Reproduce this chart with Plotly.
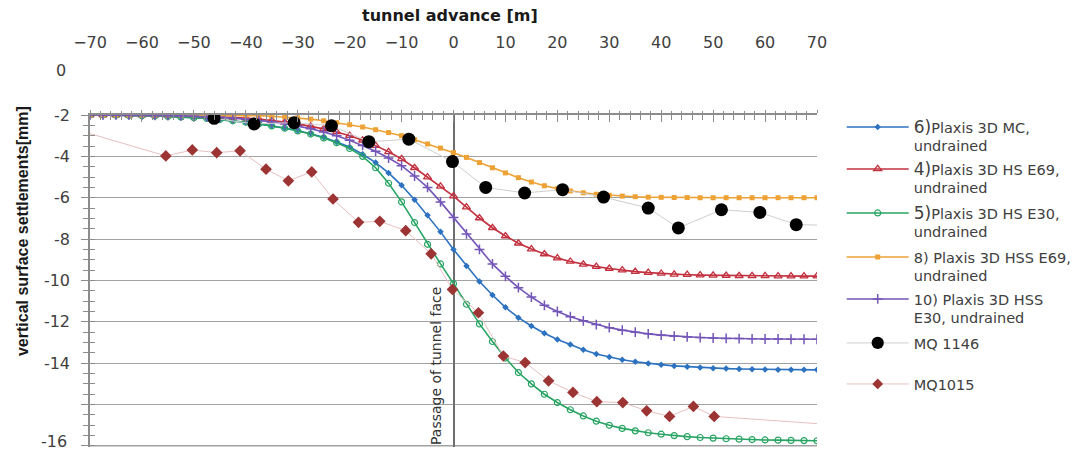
import plotly.graph_objects as go

# Tunnel advance positions of the Plaxis 3D result points [m]
x_model = [-70, -67.5, -65, -62.5, -60, -57.5, -55, -52.5, -50, -47.5, -45, -42.5,
           -40, -37.5, -35, -32.5, -30, -27.5, -25, -22.5, -20, -17.5, -15, -12.5,
           -10, -7.5, -5, -2.5, 0, 2.5, 5, 7.5, 10, 12.5, 15, 17.5, 20, 22.5, 25,
           27.5, 30, 32.5, 35, 37.5, 40, 42.5, 45, 47.5, 50, 52.5, 55, 57.5, 60,
           62.5, 65, 67.5, 70]

# Vertical surface settlements [mm]
mc_undrained = [0, 0, -0.01, -0.02, -0.03, -0.05, -0.07, -0.10, -0.13, -0.17, -0.22, -0.28,
                -0.35, -0.43, -0.52, -0.63, -0.75, -0.90, -1.08, -1.30, -1.55, -1.90, -2.30, -2.80,
                -3.40, -4.10, -4.85, -5.65, -6.50, -7.30, -8.05, -8.70, -9.30, -9.80, -10.20, -10.55,
                -10.85, -11.10, -11.35, -11.55, -11.70, -11.83, -11.93, -12.01, -12.07, -12.13,
                -12.17, -12.21, -12.24, -12.26, -12.28, -12.29, -12.30, -12.31, -12.31, -12.32, -12.32]

hs_e69_undrained = [0, 0, 0, 0, -0.01, -0.01, -0.02, -0.03, -0.04, -0.06, -0.08, -0.11,
                    -0.15, -0.20, -0.26, -0.34, -0.43, -0.54, -0.67, -0.82, -1.00, -1.22, -1.48, -1.78,
                    -2.12, -2.55, -3.00, -3.45, -3.92, -4.45, -4.98, -5.45, -5.85, -6.20, -6.48, -6.72,
                    -6.92, -7.08, -7.22, -7.33, -7.42, -7.50, -7.57, -7.62, -7.66, -7.70, -7.72, -7.74,
                    -7.75, -7.76, -7.77, -7.78, -7.78, -7.79, -7.79, -7.79, -7.79]

hs_e30_undrained = [0, 0, -0.01, -0.02, -0.03, -0.05, -0.07, -0.10, -0.13, -0.17, -0.22, -0.28,
                    -0.35, -0.43, -0.53, -0.64, -0.77, -0.92, -1.11, -1.34, -1.62, -2.00, -2.55, -3.30,
                    -4.20, -5.20, -6.25, -7.20, -8.15, -9.15, -10.10, -10.95, -11.75, -12.45, -13.00,
                    -13.50, -13.90, -14.25, -14.55, -14.80, -15.00, -15.15, -15.27, -15.36, -15.43,
                    -15.50, -15.55, -15.59, -15.62, -15.65, -15.67, -15.69, -15.71, -15.72, -15.73,
                    -15.74, -15.75]

hss_e69_undrained = [0, 0, 0, 0, 0, 0, 0, 0, 0, 0, 0, 0,
                     -0.01, -0.03, -0.06, -0.10, -0.14, -0.20, -0.28, -0.37, -0.47, -0.58, -0.71, -0.85,
                     -1.00, -1.20, -1.40, -1.60, -1.82, -2.05, -2.30, -2.55, -2.80, -3.03, -3.24, -3.42,
                     -3.56, -3.67, -3.76, -3.83, -3.88, -3.92, -3.95, -3.97, -3.98, -3.99, -3.99, -4.00,
                     -4.00, -4.00, -4.00, -4.00, -4.00, -4.00, -4.00, -4.00, -4.00]

hss_e30_undrained = [0, 0, 0, -0.01, -0.01, -0.02, -0.03, -0.04, -0.06, -0.08, -0.11, -0.15,
                     -0.20, -0.26, -0.33, -0.42, -0.53, -0.66, -0.82, -1.00, -1.22, -1.47, -1.75, -2.08,
                     -2.45, -2.95, -3.50, -4.20, -4.95, -5.75, -6.50, -7.20, -7.80, -8.35, -8.80, -9.20,
                     -9.50, -9.75, -9.95, -10.13, -10.28, -10.40, -10.50, -10.58, -10.64, -10.69, -10.73,
                     -10.76, -10.78, -10.80, -10.81, -10.82, -10.83, -10.83, -10.84, -10.84, -10.84]

# Measured settlements, cross sections MQ 1146 and MQ1015 (last point ends the line only)
mq1146_x = [-46.1, -38.4, -30.7, -23.5, -16.3, -8.6, -0.2, 6.2, 13.7, 21.0, 28.9, 37.5,
            43.3, 51.6, 59.0, 66.0, 70.0]
mq1146_y = [-0.16, -0.43, -0.37, -0.52, -1.29, -1.17, -2.25, -3.50, -3.77, -3.61, -3.97, -4.50,
            -5.46, -4.58, -4.71, -5.30, -5.32]

mq1015_x = [-70.0, -55.4, -50.3, -45.6, -41.1, -36.1, -31.8, -27.3, -23.2, -18.3, -14.2, -9.2,
            -4.3, -0.2, 4.8, 9.6, 13.8, 18.3, 23.0, 27.6, 32.6, 37.2, 41.6, 46.2, 50.2, 70.0]
mq1015_y = [-0.90, -1.98, -1.69, -1.82, -1.73, -2.62, -3.18, -2.75, -4.06, -5.19, -5.14, -5.59,
            -6.71, -8.43, -9.56, -11.65, -11.97, -12.85, -13.41, -13.86, -13.90, -14.30, -14.57,
            -14.09, -14.57, -14.92]

# Grid positions of the settlement axis and the labels printed next to them
# (the lowest label is placed separately so it stays inside the figure)
y_grid = [0, -2, -4, -6, -8, -10, -12, -14, -16]
y_grid_text = ["-2", "-4", "-6", "-8", "-10", "-12", "-14", "", ""]
y_bottom_text = "-16"

BIG = "<span style='font-size:17px'>{}</span>"
names = [
    BIG.format("6)") + "Plaxis 3D MC,<br>undrained",
    BIG.format("4)") + "Plaxis 3D HS E69,<br>undrained",
    BIG.format("5)") + "Plaxis 3D HS E30,<br>undrained",
    "8) Plaxis 3D HSS E69,<br>undrained",
    "10) Plaxis 3D HSS<br>E30, undrained",
    "MQ 1146",
    "MQ1015",
]

FONT = "DejaVu Sans"
TXT = "#404040"
AXC = "#8c8c8c"
GRID = "#a2a2a2"
Y_RANGE = [-16.05, 0]

# geometry of the plot area in pixels (top / bottom) used to place legend entries
PLOT_TOP, PLOT_BOTTOM = 115, 447
PLOT_H = PLOT_BOTTOM - PLOT_TOP
legend_tops_px = [111, 153, 197, 241, 283, 327, 368]

fig = go.Figure()

model_series = [
    (mc_undrained, "#2c72c0", dict(symbol="diamond", size=5)),
    (hs_e69_undrained, "#c3303f", dict(symbol="triangle-up-open", size=7, line=dict(width=1.3))),
    (hs_e30_undrained, "#27a463", dict(symbol="circle-open", size=6, line=dict(width=1.2))),
    (hss_e69_undrained, "#eea236", dict(symbol="square", size=5)),
    (hss_e30_undrained, "#7456b8", dict(symbol="cross-thin-open", size=7, line=dict(width=1.5))),
]
legend_ids = ["legend"] + [f"legend{i}" for i in range(2, 8)]

for i, ((vals, col, mk), name) in enumerate(zip(model_series, names[:5])):
    fig.add_trace(go.Scatter(
        x=x_model, y=vals, name=name, mode="lines+markers", legend=legend_ids[i],
        line=dict(color=col, width=1.6),
        marker=dict(color=col, **mk),
    ))

sizes_1146 = [13] * (len(mq1146_x) - 1) + [0]
fig.add_trace(go.Scatter(
    x=mq1146_x, y=mq1146_y, name=names[5], mode="lines+markers", legend=legend_ids[5],
    line=dict(color="#cfcfcf", width=1),
    marker=dict(color="#000000", symbol="circle", size=sizes_1146, opacity=1,
                line=dict(width=0)),
))

sizes_1015 = [0] + [9] * (len(mq1015_x) - 2) + [0]
fig.add_trace(go.Scatter(
    x=mq1015_x, y=mq1015_y, name=names[6], mode="lines+markers", legend=legend_ids[6],
    line=dict(color="#e8c0c0", width=1),
    marker=dict(color="#9c3434", symbol="diamond", size=sizes_1015, opacity=1,
                line=dict(width=0)),
))

# empty trace that carries the overlay axes drawing the inner halves of the ticks
fig.add_trace(go.Scatter(x=[], y=[], xaxis="x2", yaxis="y2", showlegend=False,
                         hoverinfo="skip"))

legend_common = dict(
    x=1.034, xanchor="left", yanchor="top",
    font=dict(family=FONT, size=14.5, color=TXT),
    itemwidth=62, valign="top", bgcolor="rgba(0,0,0,0)",
)
legends = {}
for lid, top in zip(legend_ids, legend_tops_px):
    legends[lid] = dict(legend_common, y=(PLOT_BOTTOM - top) / PLOT_H)

fig.update_layout(
    width=1081, height=452,
    margin=dict(l=90, r=264, t=PLOT_TOP, b=452 - PLOT_BOTTOM, autoexpand=False),
    paper_bgcolor="white", plot_bgcolor="white",
    font=dict(family=FONT, color=TXT),
    showlegend=True,
    xaxis=dict(
        range=[-70, 70], side="top", fixedrange=True, automargin=False,
        showline=True, linecolor=AXC, linewidth=1.5,
        ticks="outside", ticklen=3, tickcolor=AXC, tickwidth=1,
        tick0=0, dtick=10,
        minor=dict(tick0=0, dtick=2, ticks="outside", ticklen=2, tickcolor=AXC, showgrid=False),
        showgrid=False,
        zeroline=True, zerolinecolor="#6e6e6e", zerolinewidth=1.5,
        tickfont=dict(family=FONT, size=16, color=TXT),
        ticklabelstandoff=56,
    ),
    xaxis2=dict(
        range=[-70, 70], overlaying="x", side="top", fixedrange=True, automargin=False,
        showline=False, showgrid=False, zeroline=False, showticklabels=False,
        ticks="inside", ticklen=7, tickcolor=AXC, tick0=0, dtick=10,
        minor=dict(tick0=0, dtick=2, ticks="inside", ticklen=5, tickcolor=AXC, showgrid=False),
    ),
    yaxis=dict(
        range=Y_RANGE, fixedrange=True, automargin=False,
        showline=True, linecolor=AXC, linewidth=1.5,
        tickmode="array", tickvals=y_grid, ticktext=y_grid_text,
        ticks="outside", ticklen=7, tickcolor=AXC,
        minor=dict(tickmode="linear", tick0=0, dtick=0.5, ticks="outside", ticklen=5,
                   tickcolor=AXC, showgrid=False),
        showgrid=True, gridcolor=GRID, gridwidth=1.3,
        zeroline=False,
        tickfont=dict(family=FONT, size=16, color=TXT),
        ticklabelstandoff=8,
    ),
    yaxis2=dict(
        range=Y_RANGE, overlaying="y", side="left", fixedrange=True, automargin=False,
        showline=False, showgrid=False, zeroline=False, showticklabels=False,
        tickmode="array", tickvals=y_grid,
        ticks="inside", ticklen=5, tickcolor=AXC,
        minor=dict(tickmode="linear", tick0=0, dtick=0.5, ticks="inside", ticklen=5,
                   tickcolor=AXC, showgrid=False),
    ),
    shapes=[
        # lowest grid line of the settlement axis
        dict(type="line", xref="x", yref="y", x0=-70, x1=70, y0=y_grid[-1], y1=y_grid[-1],
             line=dict(color=GRID, width=1.3), layer="below"),
    ],
    annotations=[
        dict(text="<b>tunnel advance [m]</b>", xref="paper", yref="paper",
             x=0.495, y=1.301, xanchor="center", yanchor="middle", showarrow=False,
             font=dict(family=FONT, size=16, color="#1a1a1a")),
        dict(text="0", xref="paper", yref="paper", x=-0.030, y=1.1355,
             xanchor="right", yanchor="middle", showarrow=False,
             font=dict(family=FONT, size=16, color=TXT)),
        dict(text=y_bottom_text, xref="paper", yref="y", x=-0.0289, y=y_grid[-1],
             yshift=4, xanchor="right", yanchor="middle", showarrow=False,
             font=dict(family=FONT, size=16, color=TXT)),
        dict(text="<b>vertical surface settlements[mm]</b>", xref="paper", yref="paper",
             x=-0.0935, y=0.6506, xanchor="center", yanchor="middle", textangle=-90,
             showarrow=False, font=dict(family="Liberation Sans", size=16, color="#1a1a1a")),
        dict(text="Passage of tunnel face", xref="x", yref="y", x=-3.4, y=-12.14,
             xanchor="center", yanchor="middle", textangle=-90, showarrow=False,
             font=dict(family=FONT, size=14, color="#333333")),
    ],
    **legends,
)

fig.write_html("out.html")
